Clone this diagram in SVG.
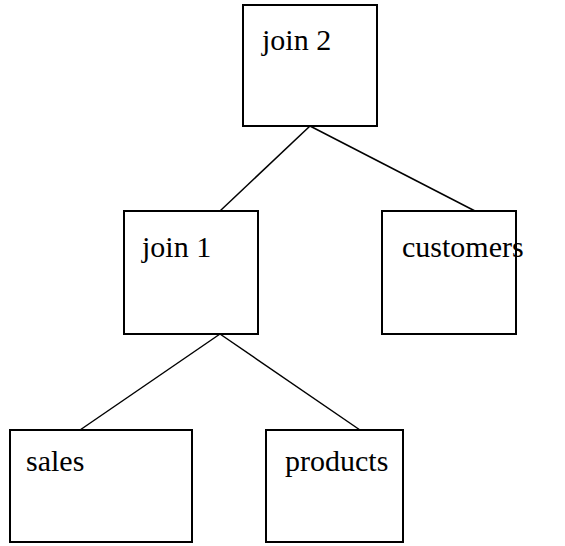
<svg xmlns="http://www.w3.org/2000/svg" width="565" height="546" viewBox="0 0 565 546">
<style>
.box{fill:#fff;stroke:#000;stroke-width:2}
.lbl{font-family:"Liberation Serif","Times New Roman",serif;font-size:30px;fill:#000}
.edge{stroke:#000;stroke-width:1.5;fill:none}
</style>
<rect width="565" height="546" fill="#fff"/>
<g id="connectors">
<line class="edge" x1="310" y1="126" x2="220" y2="211"/>
<line class="edge" x1="310" y1="126" x2="475" y2="211"/>
<line class="edge" x1="220" y1="334" x2="80" y2="430"/>
<line class="edge" x1="220" y1="334" x2="360" y2="430"/>
</g>
<g id="join2"><rect class="box" x="243" y="5" width="134" height="121"/><text class="lbl" x="262" y="50">join 2</text></g>
<g id="join1"><rect class="box" x="124" y="211" width="134" height="123"/><text class="lbl" x="142" y="257">join 1</text></g>
<g id="customers"><rect class="box" x="382" y="211" width="134" height="123"/><text class="lbl" x="402" y="257">customers</text></g>
<g id="sales"><rect class="box" x="10" y="430" width="182" height="112"/><text class="lbl" x="26" y="471">sales</text></g>
<g id="products"><rect class="box" x="266" y="430" width="137" height="112"/><text class="lbl" x="285" y="471">products</text></g>
</svg>
